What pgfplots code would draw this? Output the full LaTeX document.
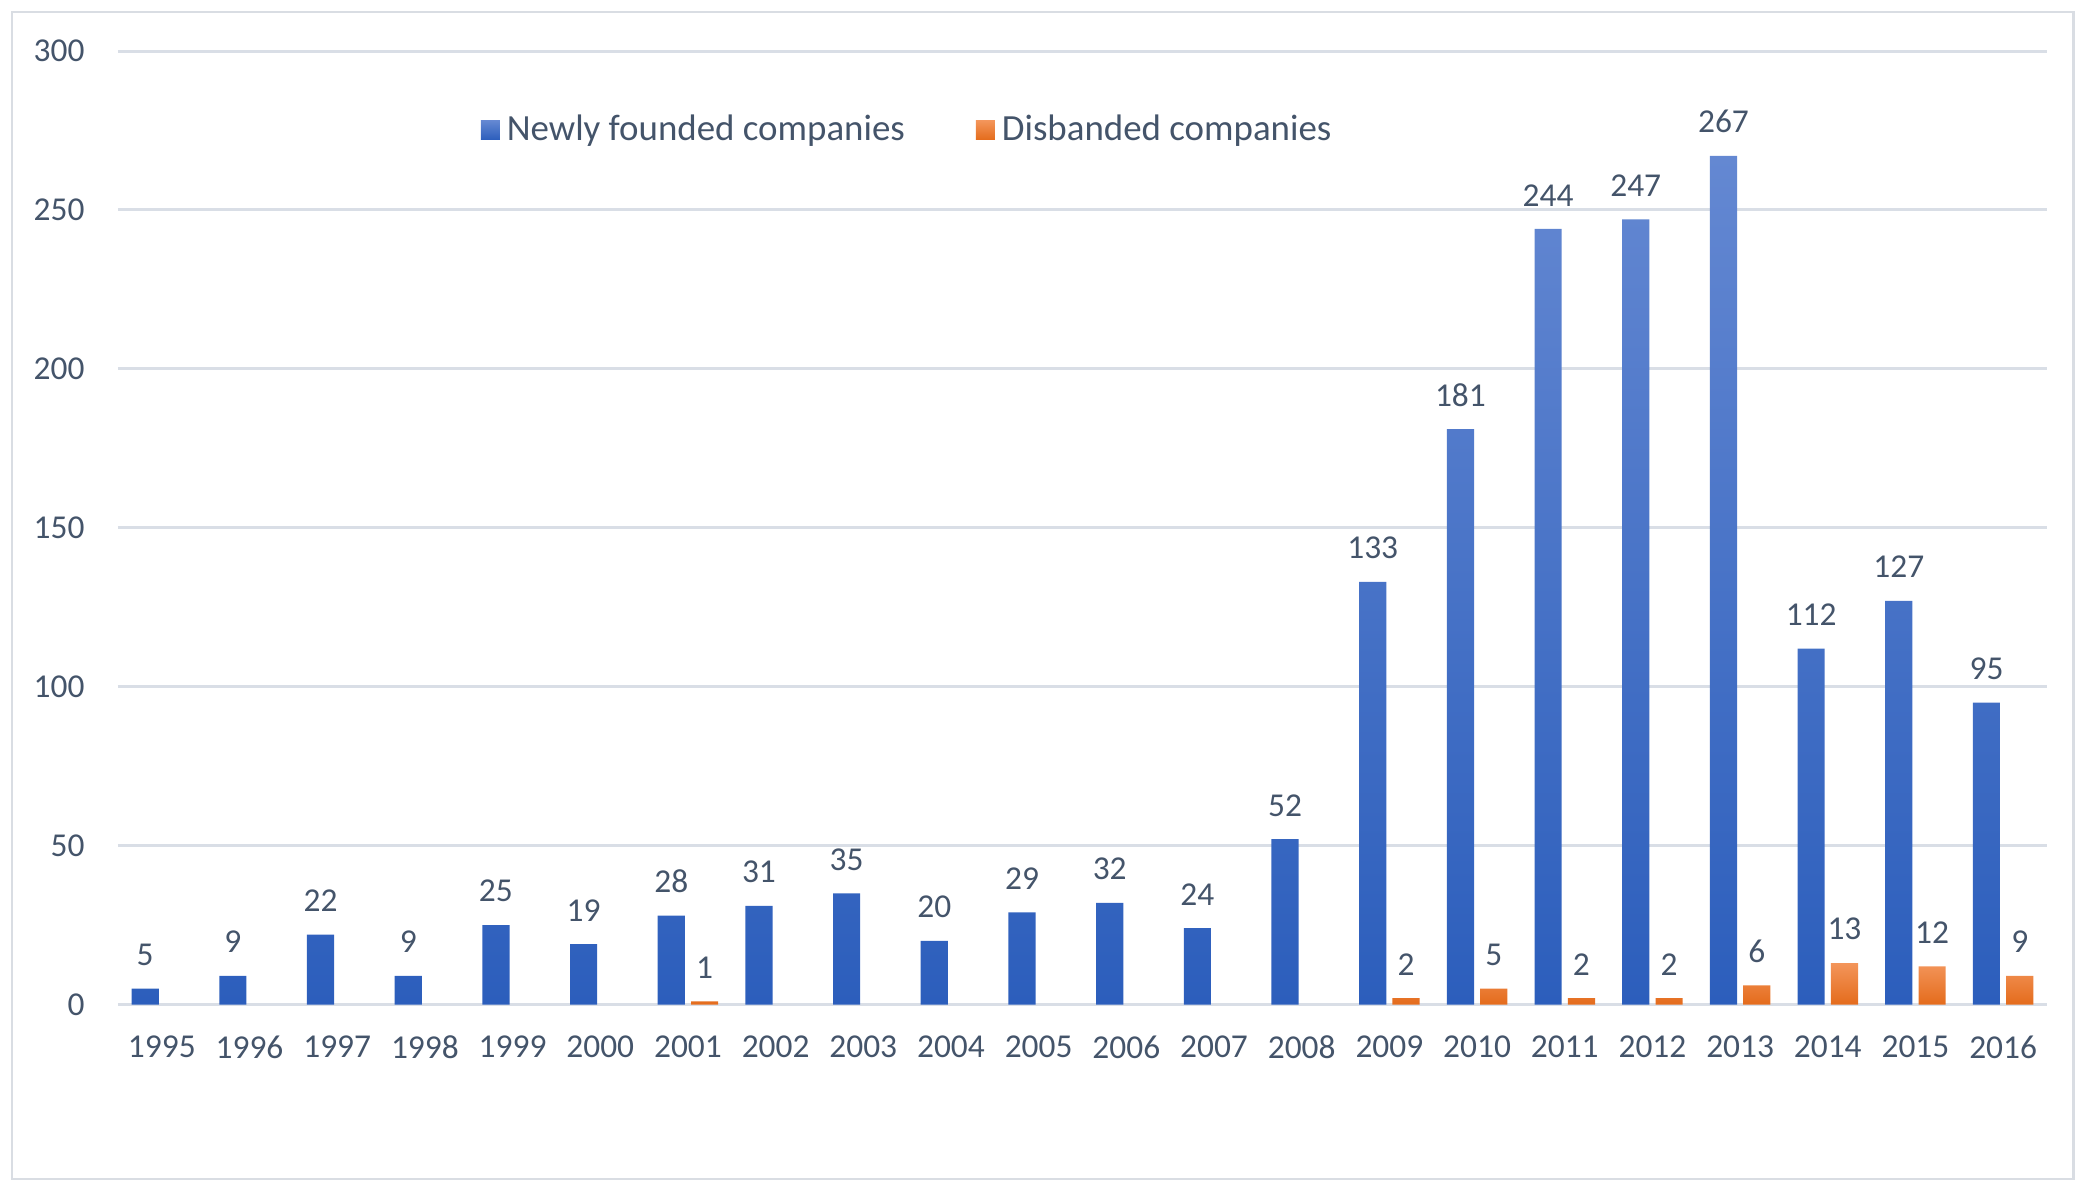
\documentclass[border=0pt]{standalone}
\usepackage{fontspec}
\setmainfont{Carlito}
\usepackage{pgfplots}
\pgfplotsset{compat=1.18}

\definecolor{txt}{HTML}{44546A}
\definecolor{gridc}{HTML}{D9DEE6}
\definecolor{framec}{HTML}{D9DDE3}
\definecolor{bluetop}{HTML}{6488D2}
\definecolor{bluebot}{HTML}{2C5EBC}
\definecolor{orangetop}{HTML}{F3955A}
\definecolor{orangebot}{HTML}{E46C1C}

\begin{document}
\begin{tikzpicture}
\path (0,0) rectangle (21cm,11.91cm);
\draw[framec, line width=0.85pt] (0.12cm,0.12cm) rectangle (20.73cm,11.79cm);
\begin{axis}[
  at={(1.18cm,1.865cm)}, anchor=south west,
  scale only axis, width=19.29cm, height=9.535cm,
  ybar, bar width=0.31,
  xmin=-0.5, xmax=21.5, ymin=0, ymax=300,
  xtick={0,...,21},
  xticklabels={1995,1996,1997,1998,1999,2000,2001,2002,2003,2004,2005,2006,2007,2008,2009,2010,2011,2012,2013,2014,2015,2016},
  ytick={0,50,...,300},
  axis line style={draw=none},
  major tick length=0pt,
  ymajorgrids, grid style={gridc, line width=0.85pt},
  tick label style={text=txt, font=\fontsize{9.5}{11.4}\selectfont},
  xticklabel style={yshift=-5.3pt},
  yticklabel style={xshift=-6pt},
  /pgf/number format/assume math mode=true,
  nodes near coords,
  every node near coord/.append style={text=txt, font=\fontsize{9.5}{11.4}\selectfont, yshift=3pt},
  legend columns=2,
  legend style={draw=none, fill=none, inner sep=0pt, at={(rel axis cs:0.1877,0.917)}, anchor=west,
    font=\fontsize{10.5}{12.6}\selectfont, text=txt,
    /tikz/every even column/.append style={column sep=0.64cm}},
  legend image code/.code={\path[#1] (0cm,-0.095cm) rectangle (0.19cm,0.095cm);},
]
\addplot[draw=none, top color=bluetop, bottom color=bluebot, bar shift=-0.19] coordinates {
  (0,5) (1,9) (2,22) (3,9) (4,25) (5,19) (6,28) (7,31) (8,35) (9,20) (10,29)
  (11,32) (12,24) (13,52) (14,133) (15,181) (16,244) (17,247) (18,267) (19,112) (20,127) (21,95)};
\addplot[draw=none, top color=orangetop, bottom color=orangebot, bar shift=0.19] coordinates {
  (6,1) (14,2) (15,5) (16,2) (17,2) (18,6) (19,13) (20,12) (21,9)};
\legend{Newly founded companies,Disbanded companies}
\end{axis}
\end{tikzpicture}
\end{document}
